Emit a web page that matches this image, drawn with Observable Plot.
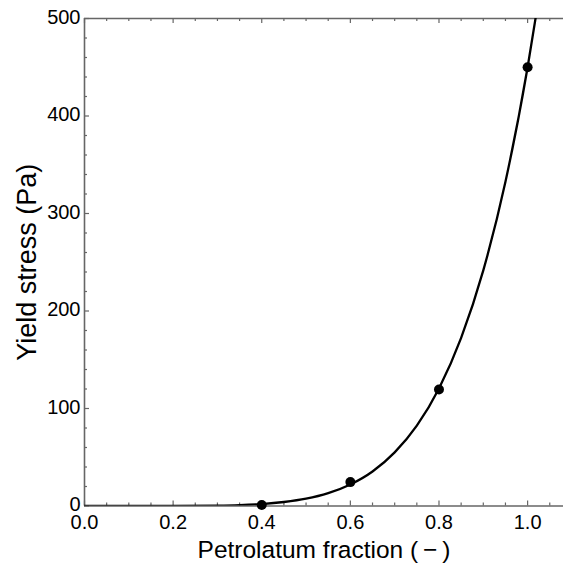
<!DOCTYPE html>
<html>
<head>
<meta charset="utf-8">
<script src="https://cdn.jsdelivr.net/npm/d3@7"></script>
<script src="https://cdn.jsdelivr.net/npm/@observablehq/plot@0.6"></script>
<style>
  html, body { margin: 0; padding: 0; background: #fff; }
</style>
</head>
<body>
<div id="chart"></div>
<script>
// Measured data points
const fraction = [0.4, 0.6, 0.8, 1.0];
const yieldStress = [1, 24.5, 119.5, 450];

// Fitted curve
const curveFraction = [0, 0.1, 0.2, 0.3, 0.35, 0.4, 0.45, 0.5, 0.55, 0.6, 0.65, 0.7, 0.75, 0.8, 0.85, 0.9, 0.95, 1.0, 1.02, 1.04];
const curveStress   = [0, 0.0006, 0.03, 0.37, 0.9, 2.0, 4.1, 7.5, 13.2, 22.1, 35.4, 55, 82.4, 120.6, 172.5, 241.7, 332.5, 450, 506, 566];

// Tick values
const xMajor = [0, 0.2, 0.4, 0.6, 0.8, 1.0];
const xMinor = [0.05, 0.1, 0.15, 0.25, 0.3, 0.35, 0.45, 0.5, 0.55, 0.65, 0.7, 0.75, 0.85, 0.9, 0.95, 1.05];
const yMajor = [0, 100, 200, 300, 400, 500];
const yMinor = [20, 40, 60, 80, 120, 140, 160, 180, 220, 240, 260, 280, 320, 340, 360, 380, 420, 440, 460, 480];

const xLabel = "Petrolatum fraction (\u2009\u2212\u2009)";
const yLabel = "Yield stress (Pa)";

const xMax = 1.081, yMax = 500;
const frameColor = "#666";
// tick lengths (data units): ~5px major, ~3px minor
const yMajLen = 5.1, yMinLen = 3.1, xMajLen = 0.0113, xMinLen = 0.0068;

const pts = fraction.map((f, i) => ({f, s: yieldStress[i]}));
const curve = curveFraction.map((f, i) => ({f, s: curveStress[i]}));

const chart = Plot.plot({
  width: 563,
  height: 568,
  marginLeft: 84,
  marginRight: 0,
  marginTop: 18,
  marginBottom: 62.5,
  style: {fontFamily: "'Liberation Sans', Arial, Helvetica, sans-serif", background: "#fff", color: "#000", fontSize: "19px"},
  x: {domain: [0, xMax]},
  y: {domain: [0, yMax]},
  marks: [
    // frame lines (left, bottom, top)
    Plot.ruleX([0], {y1: 0, y2: yMax, stroke: frameColor, strokeWidth: 1.6}),
    Plot.ruleY([0], {x1: 0, x2: xMax, stroke: frameColor, strokeWidth: 1.6}),
    Plot.ruleY([yMax], {x1: 0, x2: xMax, stroke: frameColor, strokeWidth: 1.6}),
    // inward ticks, bottom
    Plot.ruleX(xMajor, {y1: 0, y2: yMajLen, stroke: frameColor, strokeWidth: 1.2}),
    Plot.ruleX(xMinor, {y1: 0, y2: yMinLen, stroke: frameColor, strokeWidth: 1.2}),
    // inward ticks, top
    Plot.ruleX(xMajor, {y1: yMax, y2: yMax - yMajLen, stroke: frameColor, strokeWidth: 1.2}),
    Plot.ruleX(xMinor, {y1: yMax, y2: yMax - yMinLen, stroke: frameColor, strokeWidth: 1.2}),
    // inward ticks, left
    Plot.ruleY(yMajor, {x1: 0, x2: xMajLen, stroke: frameColor, strokeWidth: 1.2}),
    Plot.ruleY(yMinor, {x1: 0, x2: xMinLen, stroke: frameColor, strokeWidth: 1.2}),
    // tick labels
    Plot.axisX({ticks: xMajor, tickFormat: d3.format(".1f"), tickSize: 0, tickPadding: 7, dy: 2, fontSize: 20, label: null}),
    Plot.axisY({ticks: yMajor, tickFormat: d3.format("d"), tickSize: 0, tickPadding: 4, dy: -1, fontSize: 20, label: null}),
    // axis titles
    Plot.text([xLabel], {frameAnchor: "bottom", dy: 44, fontSize: 24.5, textAnchor: "middle", lineAnchor: "middle", text: d => d}),
    Plot.text([yLabel], {frameAnchor: "left", dx: -57, rotate: -90, fontSize: 27, textAnchor: "middle", lineAnchor: "middle", text: d => d}),
    // curve and data
    Plot.line(curve, {x: "f", y: "s", curve: "monotone-x", stroke: "#000", strokeWidth: 2.3, clip: true}),
    Plot.dot(pts, {x: "f", y: "s", r: 5, fill: "#000", stroke: "none"})
  ]
});
document.getElementById("chart").appendChild(chart);
</script>
</body>
</html>
